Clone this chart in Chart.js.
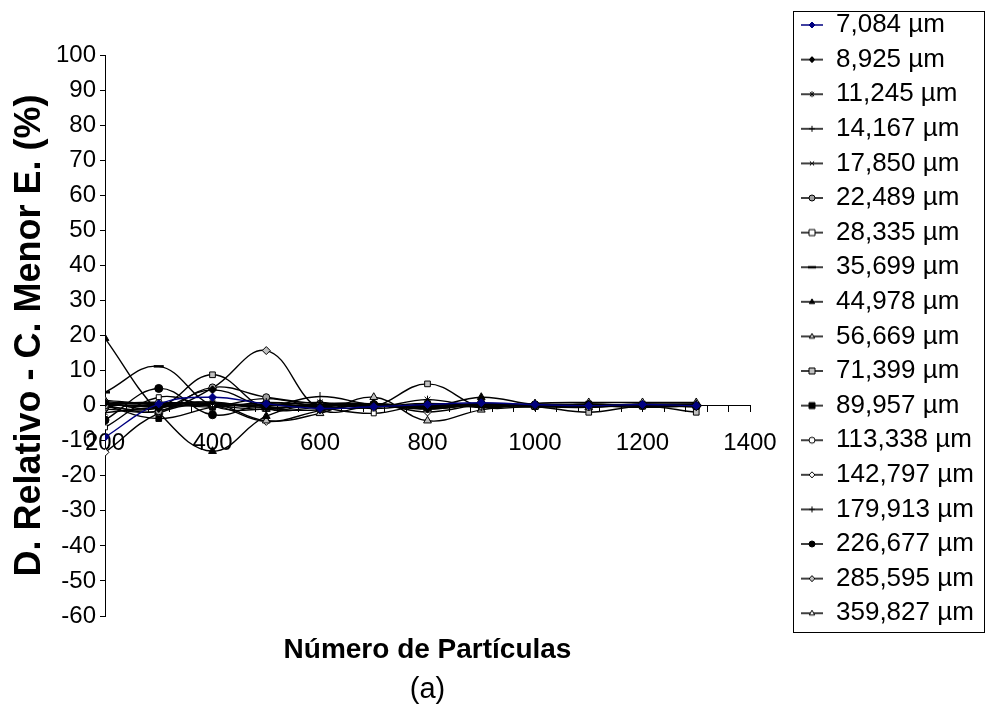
<!DOCTYPE html>
<html><head><meta charset="utf-8">
<script src="https://cdn.jsdelivr.net/npm/chart.js@4.4.1/dist/chart.umd.min.js"></script>
<style>html,body{margin:0;padding:0;background:#fff;}canvas{display:block}</style>
</head><body>
<canvas id="c" width="989" height="717"></canvas>
<script>
// ---------- DATA ----------
const particles = [200, 300, 400, 500, 600, 700, 800, 900, 1000, 1100, 1200, 1300];
const seriesNames = ["7,084 µm","8,925 µm","11,245 µm","14,167 µm","17,850 µm","22,489 µm","28,335 µm","35,699 µm","44,978 µm","56,669 µm","71,399 µm","89,957 µm","113,338 µm","142,797 µm","179,913 µm","226,677 µm","285,595 µm","359,827 µm"];
const d7084   = [-9.0, 0.5, 2.4, 0.5, -0.8, -0.3, 0.3, 0.8, 0.3, 0.0, 0.3, 0.0];
const d8925   = [0.8, -0.8, 4.5, -0.5, -1.2, 0.6, -0.8, 0.5, 0.2, 0.4, 0.0, -0.3];
const d11245  = [1.1, 0.3, 1.0, -0.6, 0.4, -0.5, 1.7, -0.4, 0.4, -0.3, 0.4, 0.1];
const d14167  = [0.3, 0.6, -0.4, 0.9, 0.2, 0.4, -0.4, 0.6, -0.1, 0.1, 0.1, 0.4];
const d17850  = [-2.0, -0.4, 0.6, 0.1, 0.9, -0.8, 0.5, -0.1, -0.4, 0.5, -0.1, 0.1];
const d22489  = [0.0, -1.6, 5.2, 2.4, 0.5, 0.2, -1.0, 0.4, 0.0, -0.4, 0.2, 0.0];
const d28335  = [-6.2, 2.4, 0.0, 2.0, -0.5, -2.2, 0.4, -0.5, 0.4, 0.1, 0.5, -0.2];
const d35699  = [3.8, 11.2, 0.0, -1.0, 0.5, 0.0, -0.5, 0.5, 0.0, 0.0, 0.0, 0.0];
const d44978  = [19.2, -1.9, -13.0, -3.0, 0.3, 0.5, -0.5, 2.4, 0.3, 0.2, 0.0, 0.2];
const d56669  = [1.5, 0.5, 0.8, -4.3, -2.2, 2.4, -4.3, -1.2, 0.6, 0.9, 0.9, 0.9];
const d71399  = [-0.5, -0.5, 8.8, -0.8, -0.5, -0.3, 6.2, -0.4, -0.3, -1.9, -0.2, -1.9];
const d89957  = [0.0, -3.7, -0.5, 0.3, -0.3, 0.4, -0.6, 0.3, 0.0, -0.2, 0.1, -0.3];
const d113338 = [0.4, 0.8, 0.3, 0.0, 0.3, -0.2, 0.6, -0.2, 0.3, 0.2, -0.1, 0.2];
const d142797 = [-13.3, -2.2, 0.0, -4.5, -1.5, 0.3, -1.8, 0.2, -0.2, 0.0, 0.2, -0.2];
const d179913 = [0.2, -0.3, 0.4, -0.3, 2.6, 0.2, 0.0, 0.2, -0.2, 0.0, -0.5, 0.0];
const d226677 = [-4.1, 4.9, -2.6, 0.5, -0.6, 0.3, -0.2, 0.6, 0.2, 0.3, 0.1, -0.1];
const d285595 = [-1.0, -1.5, 5.0, 15.7, -1.0, 0.0, -0.4, 0.3, 0.1, -0.2, 0.2, 0.1];
const d359827 = [0.5, 1.0, 0.0, -1.0, 0.5, 0.5, -0.9, 0.3, -0.3, -0.5, 0.4, 0.5];
const seriesValues = [d7084,d8925,d11245,d14167,d17850,d22489,d28335,d35699,d44978,d56669,d71399,d89957,d113338,d142797,d179913,d226677,d285595,d359827];
const xTickLabels = [200, 400, 600, 800, 1000, 1200, 1400];
const xMinorStep = 40;
const yTickValues = [-60,-50,-40,-30,-20,-10,0,10,20,30,40,50,60,70,80,90,100];
const xTitle = "Número de Partículas";
const yTitle = "D. Relativo - C. Menor E. (%)";
const caption = "(a)";

// ---------- STYLES ----------
const FONT = "'Liberation Sans', Arial, Helvetica, sans-serif";
const markerStyles = [
  {s:'rectRot', line:'#000080', fill:'#000080', r:4},
  {s:'rectRot', line:'#000', fill:'#000', r:4},
  {s:'star', line:'#000', fill:'#000', r:4},
  {s:'cross', line:'#000', fill:'#000', r:4.5},
  {s:'crossRot', line:'#000', fill:'#000', r:4},
  {s:'circle', line:'#000', fill:'#a0a0a0', r:3.5},
  {s:'rect', line:'#000', fill:'#fff', r:3.5},
  {s:'line', line:'#000', fill:'#000', r:5},
  {s:'triangle', line:'#000', fill:'#000', r:4.5},
  {s:'triangle', line:'#000', fill:'#c0c0c0', r:4.5},
  {s:'rect', line:'#000', fill:'#c0c0c0', r:4},
  {s:'rect', line:'#000', fill:'#000', r:4},
  {s:'circle', line:'#000', fill:'#fff', r:3.5},
  {s:'rectRot', line:'#000', fill:'#fff', r:4},
  {s:'cross', line:'#000', fill:'#000', r:4.5},
  {s:'circle', line:'#000', fill:'#000', r:4},
  {s:'rectRot', line:'#000', fill:'#c0c0c0', r:4},
  {s:'triangle', line:'#000', fill:'#fff', r:4.5}
];

function drawMarker(ctx, st, x, y, r) {
  ctx.save();
  ctx.strokeStyle = st.line; ctx.fillStyle = st.fill; ctx.lineWidth = 1;
  ctx.beginPath();
  switch (st.s) {
    case 'circle': ctx.arc(x, y, r, 0, Math.PI*2); ctx.fill(); ctx.stroke(); break;
    case 'rect': ctx.rect(x-r, y-r, 2*r, 2*r); ctx.fill(); ctx.stroke(); break;
    case 'rectRot': ctx.moveTo(x, y-r); ctx.lineTo(x+r, y); ctx.lineTo(x, y+r); ctx.lineTo(x-r, y); ctx.closePath(); ctx.fill(); ctx.stroke(); break;
    case 'triangle': ctx.moveTo(x, y-r); ctx.lineTo(x+r*0.9, y+r*0.6); ctx.lineTo(x-r*0.9, y+r*0.6); ctx.closePath(); ctx.fill(); ctx.stroke(); break;
    case 'cross': ctx.moveTo(x-r, y); ctx.lineTo(x+r, y); ctx.moveTo(x, y-r); ctx.lineTo(x, y+r); ctx.stroke(); break;
    case 'crossRot': ctx.moveTo(x-r*0.7, y-r*0.7); ctx.lineTo(x+r*0.7, y+r*0.7); ctx.moveTo(x+r*0.7, y-r*0.7); ctx.lineTo(x-r*0.7, y+r*0.7); ctx.stroke(); break;
    case 'star': ctx.moveTo(x-r*0.7, y-r*0.7); ctx.lineTo(x+r*0.7, y+r*0.7); ctx.moveTo(x+r*0.7, y-r*0.7); ctx.lineTo(x-r*0.7, y+r*0.7); ctx.moveTo(x, y-r); ctx.lineTo(x, y+r); ctx.stroke(); break;
    case 'line': ctx.lineWidth = 2.5; ctx.moveTo(x-r, y); ctx.lineTo(x+r, y); ctx.stroke(); break;
  }
  ctx.restore();
}
function legendIcon(st) {
  const cv = document.createElement('canvas');
  cv.width = 22; cv.height = 12;
  const c = cv.getContext('2d');
  c.strokeStyle = st.line; c.lineWidth = 1.5;
  c.beginPath(); c.moveTo(0, 6); c.lineTo(22, 6); c.stroke();
  drawMarker(c, st, 11, 6, st.s === 'line' ? 4 : 3);
  return cv;
}
const icons = markerStyles.map(legendIcon);

const datasets = seriesNames.map((name, i) => {
  const st = markerStyles[i];
  return {
    label: name,
    data: particles.map((p, k) => ({x: p, y: seriesValues[i][k]})),
    borderColor: st.line,
    borderWidth: 1.4,
    backgroundColor: st.fill,
    pointStyle: st.s,
    pointRadius: st.r,
    pointBorderColor: st.line,
    pointBackgroundColor: st.fill,
    pointBorderWidth: st.s === 'line' ? 2.5 : 1,
    tension: 0.4,
    fill: false
  };
});

const LEGEND_FONT = 26;
const legendBox = {
  id: 'legendBox',
  afterLayout(chart) {
    const lg = chart.legend;
    lg.left = 792.4; lg.right = 989;
    lg.top = 3.4; lg.bottom = 717;
  },
  afterDraw(chart) {
    const ctx = chart.ctx;
    ctx.save();
    ctx.strokeStyle = '#000'; ctx.lineWidth = 1;
    ctx.strokeRect(793.5, 11.5, 191, 621);
    ctx.restore();
  }
};

new Chart(document.getElementById('c'), {
  type: 'line',
  data: { datasets },
  plugins: [legendBox],
  options: {
    responsive: false,
    animation: false,
    events: [],
    layout: { padding: { left: 0, right: 79, top: 55, bottom: 0 } },
    plugins: {
      legend: {
        position: 'right', align: 'start', maxWidth: 160,
        labels: {
          usePointStyle: true, pointStyleWidth: 22, boxHeight: 12, padding: 8.6,
          color: '#000', font: { family: FONT, size: LEGEND_FONT },
          generateLabels(chart) {
            return chart.data.datasets.map((ds, i) => ({
              text: ds.label, pointStyle: icons[i], fillStyle: '#000', strokeStyle: '#000',
              lineWidth: 0, hidden: false, datasetIndex: i, fontColor: '#000'
            }));
          }
        }
      },
      title: { display: true, text: caption, position: 'bottom', fullSize: false, color: '#000',
        font: { family: FONT, size: 29, weight: 'normal' }, padding: { top: 3.8, bottom: 9.6 } },
      tooltip: { enabled: false }
    },
    scales: {
      x: {
        type: 'linear', position: { y: 0 }, min: 200, max: 1400,
        afterBuildTicks(scale) {
          const t = [];
          for (let v = scale.min; v <= scale.max; v += xMinorStep) t.push({ value: v });
          scale.ticks = t;
        },
        ticks: { color: '#000', font: { family: FONT, size: 24 }, padding: 17, maxRotation: 0, autoSkip: false,
          callback: (v) => (xTickLabels.includes(v) ? String(v) : '') },
        grid: { display: true, drawOnChartArea: false, drawTicks: true, tickLength: 6, color: '#000' },
        border: { display: true, color: '#000', width: 1 }
      },
      x2: {
        type: 'linear', position: 'bottom', min: 200, max: 1400,
        ticks: { display: false }, grid: { display: false }, border: { display: false },
        title: { display: true, text: xTitle, color: '#000', font: { family: FONT, size: 28, weight: 'bold' }, padding: { top: 9.2, bottom: 2 } }
      },
      y: {
        type: 'linear', position: 'left', min: -60, max: 100,
        afterBuildTicks(scale) { scale.ticks = yTickValues.map(v => ({ value: v })); },
        afterFit(scale) { scale.width = 105; },
        ticks: { color: '#000', font: { family: FONT, size: 24 }, padding: 4,
          callback: (v) => String(v) },
        grid: { display: true, drawOnChartArea: false, drawTicks: true, tickLength: 5, color: '#000' },
        border: { display: true, color: '#000', width: 1 },
        title: { display: true, text: yTitle, color: '#000', font: { family: FONT, size: 36, weight: 'bold' }, padding: { top: 8, bottom: 2 } }
      }
    }
  }
});
</script>
</body></html>
